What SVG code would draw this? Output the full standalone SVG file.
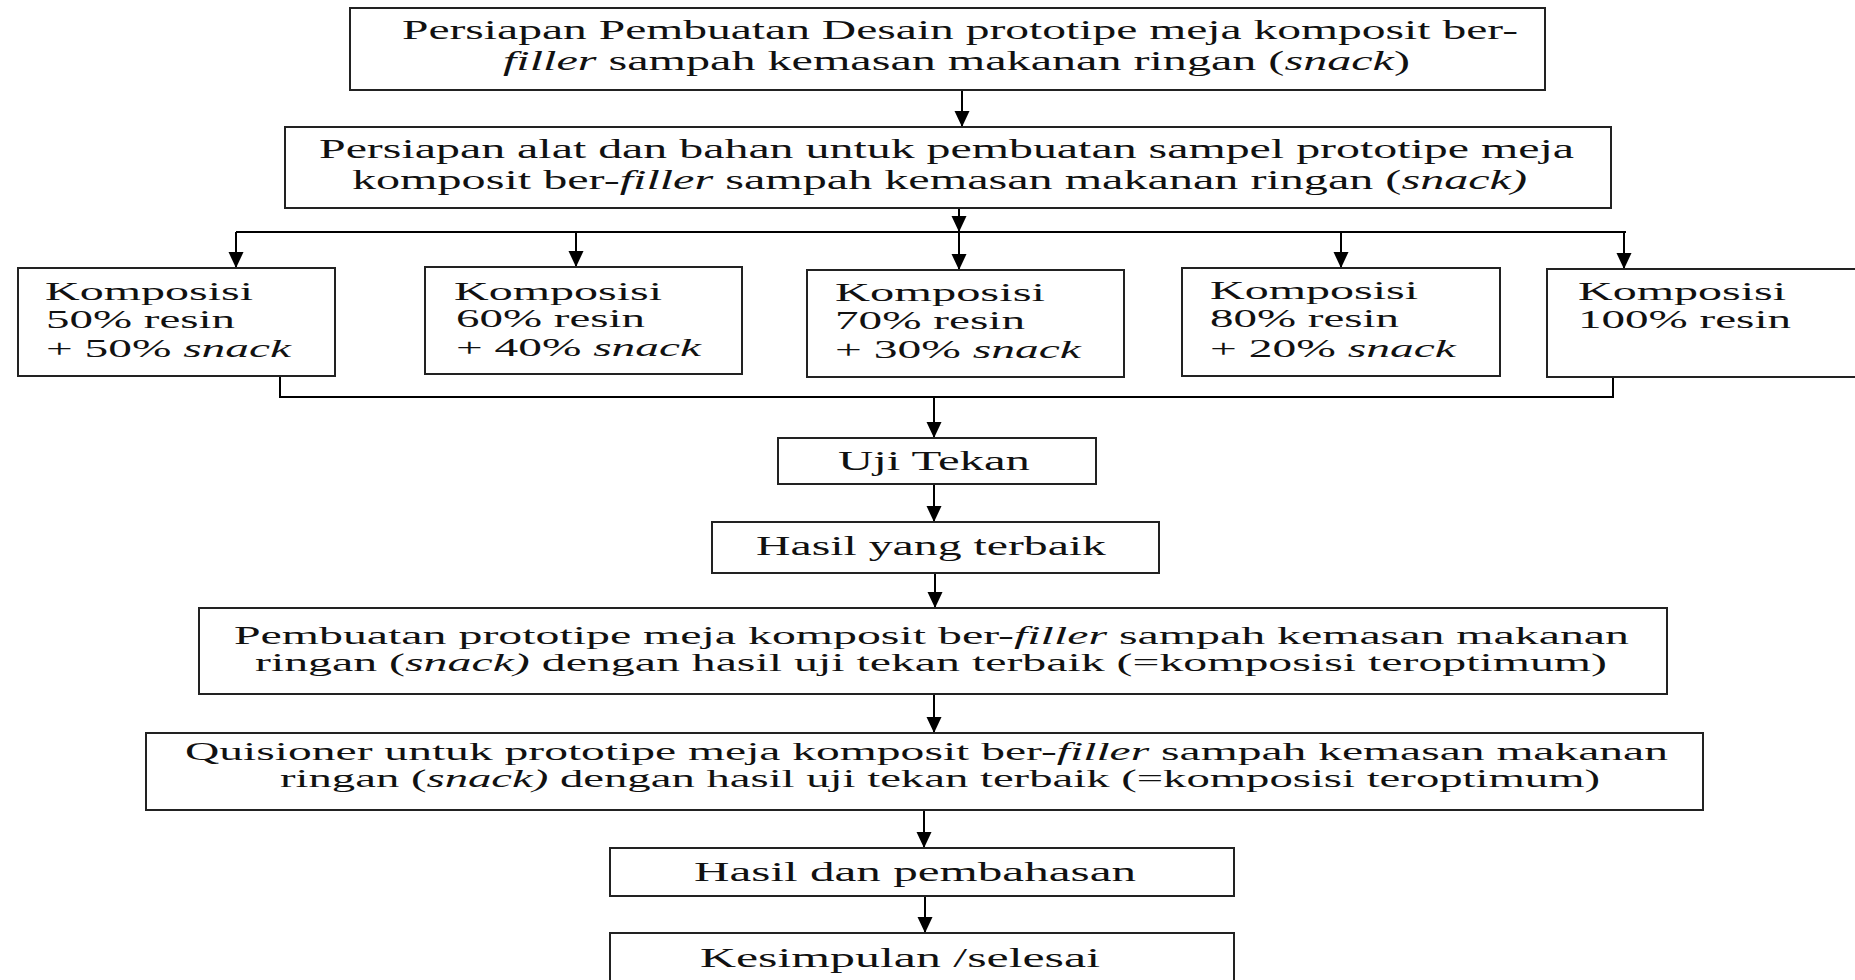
<svg xmlns="http://www.w3.org/2000/svg" width="1855" height="980" viewBox="0 0 1855 980">
<defs>
<marker id="ah" markerUnits="userSpaceOnUse" markerWidth="16" markerHeight="16" refX="16" refY="8" orient="auto">
<path d="M0,0.5 L16,8 L0,15.5 z" fill="#000"/>
</marker>
<style>
.box{fill:#fff;stroke:#222;stroke-width:2}
.t{font-family:"Liberation Serif","Times New Roman",serif;font-size:28px;fill:#111}
.s{font-size:25px}
.k{font-family:"Liberation Serif","Times New Roman",serif;font-size:26px;fill:#111}
.i{font-style:italic}
.c{fill:none;stroke:#000;stroke-width:2}
.a{fill:none;stroke:#000;stroke-width:2;marker-end:url(#ah)}
</style>
</defs>
<rect width="1855" height="980" fill="#fff"/>
<g id="connectors">
<line class="a" x1="962" y1="90" x2="962" y2="127"/>
<line class="a" x1="959" y1="208" x2="959" y2="232"/>
<line class="c" x1="236" y1="232" x2="1626" y2="232"/>
<line class="a" x1="236" y1="232" x2="236" y2="268"/>
<line class="a" x1="576" y1="232" x2="576" y2="267"/>
<line class="a" x1="959" y1="232" x2="959" y2="270"/>
<line class="a" x1="1341" y1="232" x2="1341" y2="268"/>
<line class="a" x1="1624" y1="232" x2="1624" y2="269"/>
<polyline class="c" points="280,376 280,397 1613,397 1613,377"/>
<line class="a" x1="934" y1="397" x2="934" y2="438"/>
<line class="a" x1="934" y1="484" x2="934" y2="522"/>
<line class="a" x1="935" y1="573" x2="935" y2="608"/>
<line class="a" x1="934" y1="694" x2="934" y2="733"/>
<line class="a" x1="924" y1="810" x2="924" y2="848"/>
<line class="a" x1="925" y1="896" x2="925" y2="933"/>
</g>
<g id="n1">
<rect class="box" x="350" y="8" width="1195" height="82"/>
<text class="t" x="402" y="39" textLength="1116" lengthAdjust="spacingAndGlyphs">Persiapan Pembuatan Desain prototipe meja komposit ber-</text>
<text class="t" x="503" y="70" textLength="907" lengthAdjust="spacingAndGlyphs"><tspan class="i">filler</tspan> sampah kemasan makanan ringan (<tspan class="i">snack</tspan>)</text>
</g>
<g id="n2">
<rect class="box" x="285" y="127" width="1326" height="81"/>
<text class="t" x="319" y="158" textLength="1255" lengthAdjust="spacingAndGlyphs">Persiapan alat dan bahan untuk pembuatan sampel prototipe meja</text>
<text class="t" x="352" y="189" textLength="1175" lengthAdjust="spacingAndGlyphs">komposit ber-<tspan class="i">filler</tspan> sampah kemasan makanan ringan (<tspan class="i">snack)</tspan></text>
</g>
<g id="nA">
<rect class="box" x="18" y="268" width="317" height="108"/>
<text class="k" x="45" y="300" textLength="208" lengthAdjust="spacingAndGlyphs">Komposisi</text>
<text class="k" x="46" y="328" textLength="189" lengthAdjust="spacingAndGlyphs">50% resin</text>
<text class="k" x="46" y="357" textLength="245" lengthAdjust="spacingAndGlyphs">+ 50% <tspan class="i">snack</tspan></text>
</g>
<g id="nB">
<rect class="box" x="425" y="267" width="317" height="107"/>
<text class="k" x="454" y="300" textLength="208" lengthAdjust="spacingAndGlyphs">Komposisi</text>
<text class="k" x="456" y="327" textLength="189" lengthAdjust="spacingAndGlyphs">60% resin</text>
<text class="k" x="456" y="356" textLength="245" lengthAdjust="spacingAndGlyphs">+ 40% <tspan class="i">snack</tspan></text>
</g>
<g id="nC">
<rect class="box" x="807" y="270" width="317" height="107"/>
<text class="k" x="835" y="301" textLength="210" lengthAdjust="spacingAndGlyphs">Komposisi</text>
<text class="k" x="835" y="329" textLength="190" lengthAdjust="spacingAndGlyphs">70% resin</text>
<text class="k" x="835" y="358" textLength="246" lengthAdjust="spacingAndGlyphs">+ 30% <tspan class="i">snack</tspan></text>
</g>
<g id="nD">
<rect class="box" x="1182" y="268" width="318" height="108"/>
<text class="k" x="1210" y="299" textLength="208" lengthAdjust="spacingAndGlyphs">Komposisi</text>
<text class="k" x="1210" y="327" textLength="189" lengthAdjust="spacingAndGlyphs">80% resin</text>
<text class="k" x="1210" y="357" textLength="246" lengthAdjust="spacingAndGlyphs">+ 20% <tspan class="i">snack</tspan></text>
</g>
<g id="nE">
<rect class="box" x="1547" y="269" width="330" height="108"/>
<text class="k" x="1578" y="300" textLength="208" lengthAdjust="spacingAndGlyphs">Komposisi</text>
<text class="k" x="1578" y="328" textLength="213" lengthAdjust="spacingAndGlyphs">100% resin</text>
</g>
<g id="n3">
<rect class="box" x="778" y="438" width="318" height="46"/>
<text class="t" x="838" y="470" textLength="192" lengthAdjust="spacingAndGlyphs">Uji Tekan</text>
</g>
<g id="n4">
<rect class="box" x="712" y="522" width="447" height="51"/>
<text class="t" x="756" y="555" textLength="350" lengthAdjust="spacingAndGlyphs">Hasil yang terbaik</text>
</g>
<g id="n5">
<rect class="box" x="199" y="608" width="1468" height="86"/>
<text class="t s" x="234" y="644" textLength="1395" lengthAdjust="spacingAndGlyphs">Pembuatan prototipe meja komposit ber-<tspan class="i">filler</tspan> sampah kemasan makanan</text>
<text class="t s" x="255" y="671" textLength="1352" lengthAdjust="spacingAndGlyphs">ringan (<tspan class="i">snack)</tspan> dengan hasil uji tekan terbaik (=komposisi teroptimum)</text>
</g>
<g id="n6">
<rect class="box" x="146" y="733" width="1557" height="77"/>
<text class="t s" x="185" y="760" textLength="1483" lengthAdjust="spacingAndGlyphs">Quisioner untuk prototipe meja komposit ber-<tspan class="i">filler</tspan> sampah kemasan makanan</text>
<text class="t s" x="280" y="787" textLength="1320" lengthAdjust="spacingAndGlyphs">ringan (<tspan class="i">snack)</tspan> dengan hasil uji tekan terbaik (=komposisi teroptimum)</text>
</g>
<g id="n7">
<rect class="box" x="610" y="848" width="624" height="48"/>
<text class="t" x="694" y="881" textLength="442" lengthAdjust="spacingAndGlyphs">Hasil dan pembahasan</text>
</g>
<g id="n8">
<rect class="box" x="610" y="933" width="624" height="60"/>
<text class="t" x="700" y="967" textLength="400" lengthAdjust="spacingAndGlyphs">Kesimpulan /selesai</text>
</g>
</svg>
